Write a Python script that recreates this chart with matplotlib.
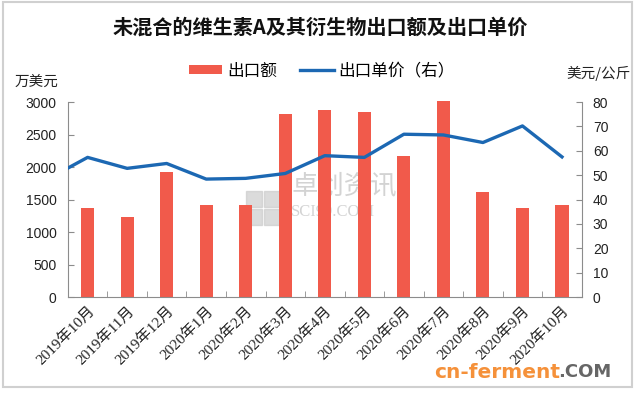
import matplotlib
matplotlib.use("Agg")
import matplotlib.pyplot as plt
from matplotlib.patches import Rectangle
import numpy as np

plt.rcParams['font.family'] = ['Noto Sans CJK SC', 'DejaVu Sans']

months = ['2019年10月', '2019年11月', '2019年12月', '2020年1月', '2020年2月',
          '2020年3月', '2020年4月', '2020年5月', '2020年6月', '2020年7月',
          '2020年8月', '2020年9月', '2020年10月']
export_value = [1375, 1235, 1925, 1415, 1415, 2815, 2870, 2850, 2170, 3010,
                1620, 1365, 1415]
# 2019年9月 的单价在左侧被坐标轴截断，只露出一小段
price_prev = 48.5
unit_price = [57.3, 52.8, 54.8, 48.4, 48.7, 50.7, 58.0, 57.3, 66.8, 66.5,
              63.4, 70.2, 57.5]

red = '#f15a4b'
blue = '#1c68b3'
axis_gray = '#8c8c8c'
wm_gray = '#cccccc'

fig = plt.figure(figsize=(6.4, 3.94), dpi=100)
fig.patches.append(Rectangle((0.004, 0.018), 0.984, 0.978, transform=fig.transFigure,
                             fill=False, edgecolor='#d0d0d0', linewidth=1.5))

ax = fig.add_axes([0.106, 0.246, 0.803, 0.495])
ax.set_facecolor('none')
x = np.arange(len(months))
ax.bar(x, export_value, width=0.33, color=red, zorder=2, clip_on=False, label='出口额')
ax.set_xlim(-0.5, len(months) - 0.5)
ax.set_ylim(0, 3000)
ax.set_yticks(np.arange(0, 3001, 500))
ax.set_xticks(x)
ax.set_xticks(np.arange(-0.5, len(months), 1), minor=True)
ax.tick_params(axis='x', which='major', length=0, pad=5)
ax.tick_params(axis='x', which='minor', direction='in', length=4, color=axis_gray)
ax.tick_params(axis='y', direction='in', length=4, color=axis_gray, labelsize=10,
               pad=8, labelcolor='#222222')
ax.set_xticklabels(months, rotation=45, ha='right', va='top', rotation_mode='anchor',
                   family=['Liberation Serif', 'Noto Sans CJK SC'], fontsize=11,
                   color='#222222')
for lab in ax.get_yticklabels():
    lab.set_family(['Liberation Sans'])
for s in ['top', 'right']:
    ax.spines[s].set_visible(False)
for s in ['left', 'bottom']:
    ax.spines[s].set_color(axis_gray)

ax2 = ax.twinx()
ax2.set_facecolor('none')
ax2.plot(np.concatenate([[-1], x]), [price_prev] + unit_price, color=blue,
         linewidth=2.4, zorder=3, label='出口单价（右）')
ax2.set_ylim(0, 80)
ax2.set_yticks(np.arange(0, 81, 10))
ax2.set_xlim(-0.5, len(months) - 0.5)
ax2.tick_params(axis='y', direction='in', length=4, color=axis_gray, labelsize=10,
                pad=8, labelcolor='#222222')
for lab in ax2.get_yticklabels():
    lab.set_family(['Liberation Sans'])
for s in ['top', 'left', 'bottom']:
    ax2.spines[s].set_visible(False)
ax2.spines['right'].set_color(axis_gray)

fig.text(0.5, 0.931, '未混合的维生素A及其衍生物出口额及出口单价', ha='center', va='center',
         fontsize=14.5, fontweight='bold', color='#111111')
fig.text(0.022, 0.792, '万美元', ha='left', va='center', fontsize=10.5, color='#222222')
fig.text(0.985, 0.813, '美元/公斤', ha='right', va='center', fontsize=10.5, color='#222222')

h1, l1 = ax.get_legend_handles_labels()
h2, l2 = ax2.get_legend_handles_labels()
fig.legend(h1 + h2, l1 + l2, loc='center', bbox_to_anchor=(0.503, 0.82), ncol=2,
           frameon=False, fontsize=12, handlelength=2.0, handleheight=0.45,
           columnspacing=1.4, handletextpad=0.3)

# 水印，放在坐标轴下面
for i in range(2):
    for j in range(2):
        fig.patches.append(Rectangle((0.385 + i * 0.028, 0.43 + j * 0.045), 0.025, 0.04,
                                     transform=fig.transFigure, color=wm_gray,
                                     alpha=0.7, zorder=-1))
fig.text(0.455, 0.525, '卓创资讯', ha='left', va='center', fontsize=19, color=wm_gray,
         alpha=0.85, zorder=-1)
fig.text(0.455, 0.462, 'SCI99.COM', ha='left', va='center', fontsize=12,
         family='Liberation Serif', color=wm_gray, alpha=0.85, zorder=-1)
fig.text(0.678, 0.055, 'cn-ferment', ha='left', va='center', fontsize=14.5,
         fontweight='bold', family='DejaVu Sans', color='#f5913a')
fig.text(0.872, 0.055, '.COM', ha='left', va='center', fontsize=13,
         fontweight='bold', family='DejaVu Sans', color='#666666')

fig.savefig('out.png', dpi=100)
